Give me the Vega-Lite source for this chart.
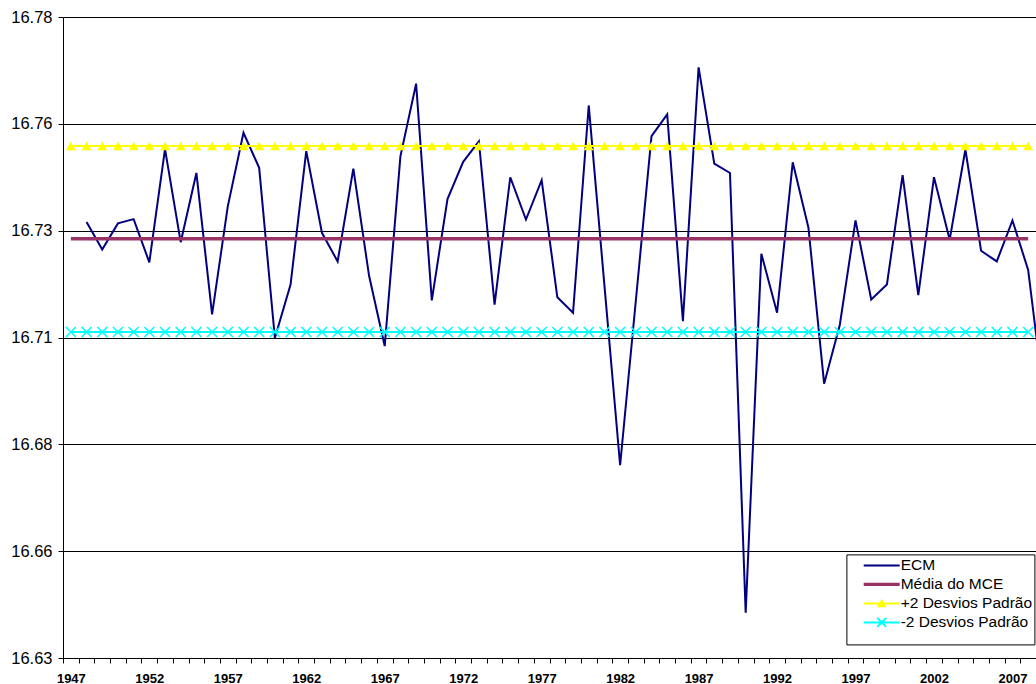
{
  "$schema": "https://vega.github.io/schema/vega-lite/v6.json",
  "width": 973,
  "height": 641,
  "autosize": {"type": "none"},
  "padding": {"left": 63, "top": 17, "right": 0, "bottom": 26},
  "background": "white",
  "config": {
    "view": {"stroke": null},
    "font": "Liberation Sans",
    "axisY": {
      "grid": true,
      "gridColor": "black",
      "gridOpacity": 1,
      "gridWidth": 1,
      "tickSize": 5,
      "tickColor": "black",
      "domainColor": "black",
      "labelFont": "Liberation Sans",
      "labelFontSize": 16.5,
      "labelColor": "black",
      "labelPadding": 6
    },
    "legend": {
      "symbolFillColor": "black",
      "symbolSize": 324,
      "symbolStrokeWidth": 0,
      "symbolOpacity": 1,
      "rowPadding": 1,
      "padding": 2,
      "symbolOffset": 24.3,
      "labelOffset": 10,
      "labelFont": "Liberation Sans",
      "labelFontSize": 15.5,
      "labelColor": "black",
      "labelLimit": 300,
      "strokeColor": "black",
      "fillColor": "white",
      "titleOrient": "bottom",
      "titleFontSize": 8,
      "titlePadding": 3,
      "titleLimit": 1000
    }
  },
  "data": {"values": [
    {"Ano":1947,"ECM":null,"Média do MCE":16.7281,"+2 Desvios Padrão":16.7498,"-2 Desvios Padrão":16.7063},
    {"Ano":1948,"ECM":16.7320,"Média do MCE":16.7281,"+2 Desvios Padrão":16.7498,"-2 Desvios Padrão":16.7063},
    {"Ano":1949,"ECM":16.7256,"Média do MCE":16.7281,"+2 Desvios Padrão":16.7498,"-2 Desvios Padrão":16.7063},
    {"Ano":1950,"ECM":16.7317,"Média do MCE":16.7281,"+2 Desvios Padrão":16.7498,"-2 Desvios Padrão":16.7063},
    {"Ano":1951,"ECM":16.7327,"Média do MCE":16.7281,"+2 Desvios Padrão":16.7498,"-2 Desvios Padrão":16.7063},
    {"Ano":1952,"ECM":16.7226,"Média do MCE":16.7281,"+2 Desvios Padrão":16.7498,"-2 Desvios Padrão":16.7063},
    {"Ano":1953,"ECM":16.7491,"Média do MCE":16.7281,"+2 Desvios Padrão":16.7498,"-2 Desvios Padrão":16.7063},
    {"Ano":1954,"ECM":16.7273,"Média do MCE":16.7281,"+2 Desvios Padrão":16.7498,"-2 Desvios Padrão":16.7063},
    {"Ano":1955,"ECM":16.7435,"Média do MCE":16.7281,"+2 Desvios Padrão":16.7498,"-2 Desvios Padrão":16.7063},
    {"Ano":1956,"ECM":16.7104,"Média do MCE":16.7281,"+2 Desvios Padrão":16.7498,"-2 Desvios Padrão":16.7063},
    {"Ano":1957,"ECM":16.7357,"Média do MCE":16.7281,"+2 Desvios Padrão":16.7498,"-2 Desvios Padrão":16.7063},
    {"Ano":1958,"ECM":16.7529,"Média do MCE":16.7281,"+2 Desvios Padrão":16.7498,"-2 Desvios Padrão":16.7063},
    {"Ano":1959,"ECM":16.7447,"Média do MCE":16.7281,"+2 Desvios Padrão":16.7498,"-2 Desvios Padrão":16.7063},
    {"Ano":1960,"ECM":16.7049,"Média do MCE":16.7281,"+2 Desvios Padrão":16.7498,"-2 Desvios Padrão":16.7063},
    {"Ano":1961,"ECM":16.7174,"Média do MCE":16.7281,"+2 Desvios Padrão":16.7498,"-2 Desvios Padrão":16.7063},
    {"Ano":1962,"ECM":16.7486,"Média do MCE":16.7281,"+2 Desvios Padrão":16.7498,"-2 Desvios Padrão":16.7063},
    {"Ano":1963,"ECM":16.7295,"Média do MCE":16.7281,"+2 Desvios Padrão":16.7498,"-2 Desvios Padrão":16.7063},
    {"Ano":1964,"ECM":16.7228,"Média do MCE":16.7281,"+2 Desvios Padrão":16.7498,"-2 Desvios Padrão":16.7063},
    {"Ano":1965,"ECM":16.7445,"Média do MCE":16.7281,"+2 Desvios Padrão":16.7498,"-2 Desvios Padrão":16.7063},
    {"Ano":1966,"ECM":16.7195,"Média do MCE":16.7281,"+2 Desvios Padrão":16.7498,"-2 Desvios Padrão":16.7063},
    {"Ano":1967,"ECM":16.7030,"Média do MCE":16.7281,"+2 Desvios Padrão":16.7498,"-2 Desvios Padrão":16.7063},
    {"Ano":1968,"ECM":16.7474,"Média do MCE":16.7281,"+2 Desvios Padrão":16.7498,"-2 Desvios Padrão":16.7063},
    {"Ano":1969,"ECM":16.7644,"Média do MCE":16.7281,"+2 Desvios Padrão":16.7498,"-2 Desvios Padrão":16.7063},
    {"Ano":1970,"ECM":16.7137,"Média do MCE":16.7281,"+2 Desvios Padrão":16.7498,"-2 Desvios Padrão":16.7063},
    {"Ano":1971,"ECM":16.7374,"Média do MCE":16.7281,"+2 Desvios Padrão":16.7498,"-2 Desvios Padrão":16.7063},
    {"Ano":1972,"ECM":16.7461,"Média do MCE":16.7281,"+2 Desvios Padrão":16.7498,"-2 Desvios Padrão":16.7063},
    {"Ano":1973,"ECM":16.7509,"Média do MCE":16.7281,"+2 Desvios Padrão":16.7498,"-2 Desvios Padrão":16.7063},
    {"Ano":1974,"ECM":16.7127,"Média do MCE":16.7281,"+2 Desvios Padrão":16.7498,"-2 Desvios Padrão":16.7063},
    {"Ano":1975,"ECM":16.7425,"Média do MCE":16.7281,"+2 Desvios Padrão":16.7498,"-2 Desvios Padrão":16.7063},
    {"Ano":1976,"ECM":16.7326,"Média do MCE":16.7281,"+2 Desvios Padrão":16.7498,"-2 Desvios Padrão":16.7063},
    {"Ano":1977,"ECM":16.7418,"Média do MCE":16.7281,"+2 Desvios Padrão":16.7498,"-2 Desvios Padrão":16.7063},
    {"Ano":1978,"ECM":16.7144,"Média do MCE":16.7281,"+2 Desvios Padrão":16.7498,"-2 Desvios Padrão":16.7063},
    {"Ano":1979,"ECM":16.7108,"Média do MCE":16.7281,"+2 Desvios Padrão":16.7498,"-2 Desvios Padrão":16.7063},
    {"Ano":1980,"ECM":16.7593,"Média do MCE":16.7281,"+2 Desvios Padrão":16.7498,"-2 Desvios Padrão":16.7063},
    {"Ano":1981,"ECM":16.7172,"Média do MCE":16.7281,"+2 Desvios Padrão":16.7498,"-2 Desvios Padrão":16.7063},
    {"Ano":1982,"ECM":16.6751,"Média do MCE":16.7281,"+2 Desvios Padrão":16.7498,"-2 Desvios Padrão":16.7063},
    {"Ano":1983,"ECM":16.7136,"Média do MCE":16.7281,"+2 Desvios Padrão":16.7498,"-2 Desvios Padrão":16.7063},
    {"Ano":1984,"ECM":16.7521,"Média do MCE":16.7281,"+2 Desvios Padrão":16.7498,"-2 Desvios Padrão":16.7063},
    {"Ano":1985,"ECM":16.7572,"Média do MCE":16.7281,"+2 Desvios Padrão":16.7498,"-2 Desvios Padrão":16.7063},
    {"Ano":1986,"ECM":16.7088,"Média do MCE":16.7281,"+2 Desvios Padrão":16.7498,"-2 Desvios Padrão":16.7063},
    {"Ano":1987,"ECM":16.7682,"Média do MCE":16.7281,"+2 Desvios Padrão":16.7498,"-2 Desvios Padrão":16.7063},
    {"Ano":1988,"ECM":16.7457,"Média do MCE":16.7281,"+2 Desvios Padrão":16.7498,"-2 Desvios Padrão":16.7063},
    {"Ano":1989,"ECM":16.7435,"Média do MCE":16.7281,"+2 Desvios Padrão":16.7498,"-2 Desvios Padrão":16.7063},
    {"Ano":1990,"ECM":16.6406,"Média do MCE":16.7281,"+2 Desvios Padrão":16.7498,"-2 Desvios Padrão":16.7063},
    {"Ano":1991,"ECM":16.7246,"Média do MCE":16.7281,"+2 Desvios Padrão":16.7498,"-2 Desvios Padrão":16.7063},
    {"Ano":1992,"ECM":16.7108,"Média do MCE":16.7281,"+2 Desvios Padrão":16.7498,"-2 Desvios Padrão":16.7063},
    {"Ano":1993,"ECM":16.7460,"Média do MCE":16.7281,"+2 Desvios Padrão":16.7498,"-2 Desvios Padrão":16.7063},
    {"Ano":1994,"ECM":16.7307,"Média do MCE":16.7281,"+2 Desvios Padrão":16.7498,"-2 Desvios Padrão":16.7063},
    {"Ano":1995,"ECM":16.6942,"Média do MCE":16.7281,"+2 Desvios Padrão":16.7498,"-2 Desvios Padrão":16.7063},
    {"Ano":1996,"ECM":16.7080,"Média do MCE":16.7281,"+2 Desvios Padrão":16.7498,"-2 Desvios Padrão":16.7063},
    {"Ano":1997,"ECM":16.7324,"Média do MCE":16.7281,"+2 Desvios Padrão":16.7498,"-2 Desvios Padrão":16.7063},
    {"Ano":1998,"ECM":16.7139,"Média do MCE":16.7281,"+2 Desvios Padrão":16.7498,"-2 Desvios Padrão":16.7063},
    {"Ano":1999,"ECM":16.7174,"Média do MCE":16.7281,"+2 Desvios Padrão":16.7498,"-2 Desvios Padrão":16.7063},
    {"Ano":2000,"ECM":16.7430,"Média do MCE":16.7281,"+2 Desvios Padrão":16.7498,"-2 Desvios Padrão":16.7063},
    {"Ano":2001,"ECM":16.7149,"Média do MCE":16.7281,"+2 Desvios Padrão":16.7498,"-2 Desvios Padrão":16.7063},
    {"Ano":2002,"ECM":16.7425,"Média do MCE":16.7281,"+2 Desvios Padrão":16.7498,"-2 Desvios Padrão":16.7063},
    {"Ano":2003,"ECM":16.7279,"Média do MCE":16.7281,"+2 Desvios Padrão":16.7498,"-2 Desvios Padrão":16.7063},
    {"Ano":2004,"ECM":16.7490,"Média do MCE":16.7281,"+2 Desvios Padrão":16.7498,"-2 Desvios Padrão":16.7063},
    {"Ano":2005,"ECM":16.7253,"Média do MCE":16.7281,"+2 Desvios Padrão":16.7498,"-2 Desvios Padrão":16.7063},
    {"Ano":2006,"ECM":16.7228,"Média do MCE":16.7281,"+2 Desvios Padrão":16.7498,"-2 Desvios Padrão":16.7063},
    {"Ano":2007,"ECM":16.7324,"Média do MCE":16.7281,"+2 Desvios Padrão":16.7498,"-2 Desvios Padrão":16.7063},
    {"Ano":2008,"ECM":16.7208,"Média do MCE":16.7281,"+2 Desvios Padrão":16.7498,"-2 Desvios Padrão":16.7063},
    {"Ano":2009,"ECM":16.6910,"Média do MCE":null,"+2 Desvios Padrão":null,"-2 Desvios Padrão":null}
  ]},
  "encoding": {
    "x": {
      "field": "Ano",
      "type": "quantitative",
      "scale": {"domain": [1946.5, 2008.5], "nice": false, "zero": false},
      "axis": {
        "values": [1946.5,1947.5,1948.5,1949.5,1950.5,1951.5,1952.5,1953.5,1954.5,1955.5,1956.5,1957.5,1958.5,1959.5,1960.5,1961.5,1962.5,1963.5,1964.5,1965.5,1966.5,1967.5,1968.5,1969.5,1970.5,1971.5,1972.5,1973.5,1974.5,1975.5,1976.5,1977.5,1978.5,1979.5,1980.5,1981.5,1982.5,1983.5,1984.5,1985.5,1986.5,1987.5,1988.5,1989.5,1990.5,1991.5,1992.5,1993.5,1994.5,1995.5,1996.5,1997.5,1998.5,1999.5,2000.5,2001.5,2002.5,2003.5,2004.5,2005.5,2006.5,2007.5,2008.5],
        "labelExpr": "(datum.value - 1946.5) % 5 == 0 ? toString(datum.value + 0.5) : ''",
        "labelOffset": 7.85,
        "tickSize": 5,
        "tickColor": "black",
        "domainColor": "black",
        "labelFont": "Liberation Sans",
        "labelFontSize": 13,
        "labelFontWeight": "bold",
        "labelColor": "black",
        "labelPadding": 9,
        "labelFlush": false,
        "labelOverlap": false,
        "labelBound": false,
        "grid": false,
        "title": null
      }
    }
  },
  "layer": [
    {
      "mark": {"type": "line", "color": "#000080", "strokeWidth": 2, "clip": true},
      "encoding": {
        "y": {
          "field": "ECM",
          "type": "quantitative",
          "scale": {"domain": [16.63, 16.78], "nice": false, "zero": false},
          "axis": {
            "values": [16.63, 16.655, 16.68, 16.705, 16.73, 16.755, 16.78],
            "labelExpr": "format(datum.value + 0.0001, '.2f')",
            "title": null
          }
        }
      }
    },
    {
      "mark": {"type": "line", "color": "#993366", "strokeWidth": 3.5},
      "encoding": {"y": {"field": "Média do MCE", "type": "quantitative", "axis": {"title": null}}}
    },
    {
      "mark": {"type": "line", "color": "#FFFF00", "strokeWidth": 2},
      "encoding": {"y": {"field": "+2 Desvios Padrão", "type": "quantitative", "axis": {"title": null}}}
    },
    {
      "mark": {"type": "point", "shape": "triangle-up", "filled": true, "color": "#FFFF00", "size": 95, "opacity": 1},
      "encoding": {"y": {"field": "+2 Desvios Padrão", "type": "quantitative", "axis": {"title": null}}}
    },
    {
      "mark": {"type": "line", "color": "#00FFFF", "strokeWidth": 2},
      "encoding": {"y": {"field": "-2 Desvios Padrão", "type": "quantitative", "axis": {"title": null}}}
    },
    {
      "mark": {"type": "point", "shape": "M-1,-1L1,1M-1,1L1,-1", "filled": false, "color": "#00FFFF", "strokeWidth": 1.6, "size": 100, "opacity": 1},
      "encoding": {"y": {"field": "-2 Desvios Padrão", "type": "quantitative", "axis": {"title": null}}}
    },
    {
      "transform": [{"fold": ["ECM", "Média do MCE", "+2 Desvios Padrão", "-2 Desvios Padrão"], "as": ["Série", "Valor"]}],
      "mark": {"type": "point", "filled": true, "opacity": 0},
      "encoding": {
        "y": {"field": "Valor", "type": "quantitative", "axis": {"title": null}},
        "color": {
          "field": "Série",
          "type": "nominal",
          "scale": {"domain": ["ECM", "Média do MCE", "+2 Desvios Padrão", "-2 Desvios Padrão"], "range": ["#000080", "#993366", "#FFFF00", "#00FFFF"]},
          "legend": {
            "orient": "none",
            "legendX": 783.4,
            "legendY": 537.4,
            "title": "                                                                                                ",
            "direction": "vertical"
          }
        },
        "shape": {
          "field": "Série",
          "type": "nominal",
          "scale": {"domain": ["ECM", "Média do MCE", "+2 Desvios Padrão", "-2 Desvios Padrão"], "range": [
            "M-2,-0.11H2V0.11H-2Z",
            "M-2,-0.19H2V0.19H-2Z",
            "M-2,-0.11H2V0.11H-2Z M0,-0.52L0.54,0.44H-0.54Z",
            "M-2,-0.11H2V0.11H-2Z M-0.422,-0.578L0.578,0.422L0.422,0.578L-0.578,-0.422Z M-0.578,0.422L0.422,-0.578L0.578,-0.422L-0.422,0.578Z"
          ]}
        }
      }
    }
  ]
}
